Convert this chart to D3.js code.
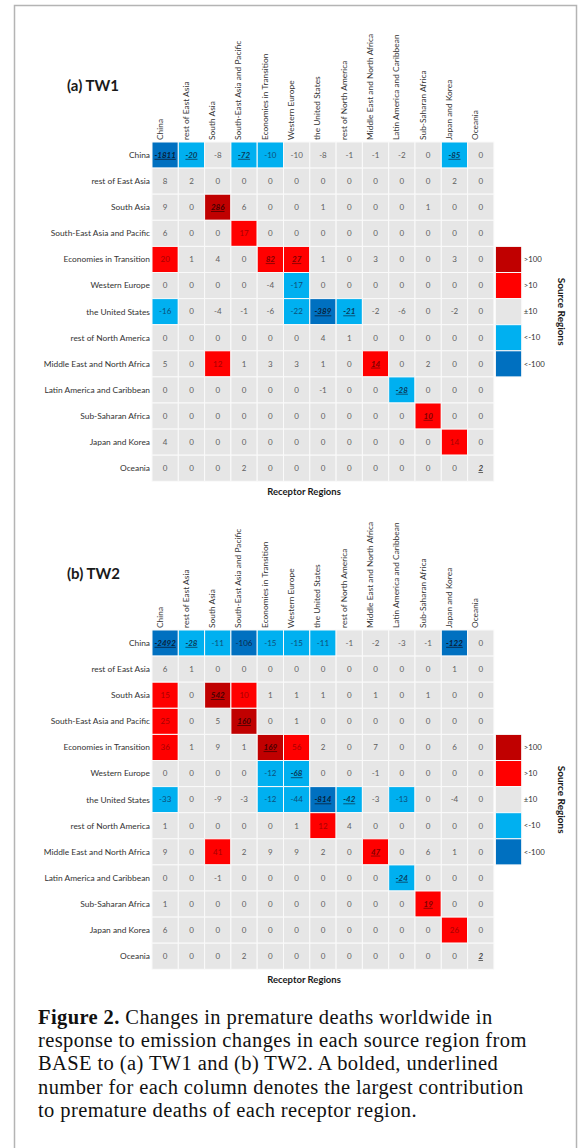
<!DOCTYPE html>
<html>
<head>
<meta charset="utf-8">
<script src="https://cdn.jsdelivr.net/npm/d3@7"></script>
<style>
  body { margin: 0; background: #fff; }
  svg { display: block; }
</style>
</head>
<body>
<svg id="chart" width="584" height="1148"></svg>
<script>
// regions (rows = source, columns = receptor)
var regions = ["China", "rest of East Asia", "South Asia", "South-East Asia and Pacific",
  "Economies in Transition", "Western Europe", "the United States", "rest of North America",
  "Middle East and North Africa", "Latin America and Caribbean", "Sub-Saharan Africa",
  "Japan and Korea", "Oceania"];

// TW1 (values with decimals are estimates where the colour shows the rounding side)
var tw1 = [
  [-1811, -20, -8, -72, -10.2, -9.8, -8, -1, -1, -2, 0, -85, 0],
  [8, 2, 0, 0, 0, 0, 0, 0, 0, 0, 0, 2, 0],
  [9, 0, 286, 6, 0, 0, 1, 0, 0, 0, 1, 0, 0],
  [6, 0, 0, 17, 0, 0, 0, 0, 0, 0, 0, 0, 0],
  [20, 1, 4, 0, 82, 27, 1, 0, 3, 0, 0, 3, 0],
  [0, 0, 0, 0, -4, -17, 0, 0, 0, 0, 0, 0, 0],
  [-16, 0, -4, -1, -6, -22, -389, -21, -2, -6, 0, -2, 0],
  [0, 0, 0, 0, 0, 0, 4, 1, 0, 0, 0, 0, 0],
  [5, 0, 12, 1, 3, 3, 1, 0, 14, 0, 2, 0, 0],
  [0, 0, 0, 0, 0, 0, -1, 0, 0, -28, 0, 0, 0],
  [0, 0, 0, 0, 0, 0, 0, 0, 0, 0, 10.3, 0, 0],
  [4, 0, 0, 0, 0, 0, 0, 0, 0, 0, 0, 14, 0],
  [0, 0, 0, 2, 0, 0, 0, 0, 0, 0, 0, 0, 2]
];

// TW2
var tw2 = [
  [-2492, -28, -11, -106, -15, -15, -11, -1, -2, -3, -1, -122, 0],
  [6, 1, 0, 0, 0, 0, 0, 0, 0, 0, 0, 1, 0],
  [15, 0, 542, 10.4, 1, 1, 1, 0, 1, 0, 1, 0, 0],
  [25, 0, 5, 160, 0, 1, 0, 0, 0, 0, 0, 0, 0],
  [36, 1, 9, 1, 169, 56, 2, 0, 7, 0, 0, 6, 0],
  [0, 0, 0, 0, -12, -68, 0, 0, -1, 0, 0, 0, 0],
  [-33, 0, -9, -3, -12, -44, -814, -42, -3, -13, 0, -4, 0],
  [1, 0, 0, 0, 0, 1, 12, 4, 0, 0, 0, 0, 0],
  [9, 0, 41, 2, 9, 9, 2, 0, 47, 0, 6, 1, 0],
  [0, 0, -1, 0, 0, 0, 0, 0, 0, -24, 0, 0, 0],
  [1, 0, 0, 0, 0, 0, 0, 0, 0, 0, 19, 0, 0],
  [6, 0, 0, 0, 0, 0, 0, 0, 0, 0, 0, 26, 0],
  [0, 0, 0, 2, 0, 0, 0, 0, 0, 0, 0, 0, 2]
];

var legendLabels = [">100", ">10", "\u00b110", "<-10", "<-100"];
var legendValues = [200, 50, 0, -50, -200];

var captionLines = [
  ["Figure 2.", " Changes in premature deaths worldwide in"],
  ["", "response to emission changes in each source region from"],
  ["", "BASE to (a) TW1 and (b) TW2. A bolded, underlined"],
  ["", "number for each column denotes the largest contribution"],
  ["", "to premature deaths of each receptor region."]
];

var svg = d3.select("#chart");
var font = "Lato, 'Open Sans', sans-serif";

// outer frame
svg.append("rect")
  .attr("x", 14.5).attr("y", 5.5)
  .attr("width", 562).attr("height", 1150)
  .attr("fill", "none")
  .attr("stroke", "#b4b4b4")
  .attr("stroke-width", 1.5);

var color = d3.scaleThreshold()
  .domain([-100, -10, 10, 100])
  .range(["#0070c0", "#00b0f0", "#e6e6e6", "#ff0000", "#c00000"]);

var textColor = d3.scaleThreshold()
  .domain([-100, -10, 10, 100])
  .range(["#0b2a4d", "#0d4f78", "#5f5f5f", "#a80000", "#5c0000"]);

var x = d3.scaleBand().domain(regions).range([152, 152 + 13 * 26.3]);

function drawPanel(title, values, top) {
  var g = svg.append("g");
  var y = d3.scaleBand().domain(regions).range([top, top + 13 * 26.1]);

  // largest absolute contribution in each column
  var best = regions.map(function(c, j) {
    return d3.maxIndex(values, function(row) { return Math.abs(row[j]); });
  });

  g.append("text")
    .attr("x", 67).attr("y", top - 51)
    .attr("font-family", font)
    .attr("font-weight", "bold")
    .attr("font-size", 15)
    .attr("fill", "#1a1a1a")
    .text(title);

  var cells = [];
  values.forEach(function(row, i) {
    row.forEach(function(v, j) {
      cells.push({ src: regions[i], rec: regions[j], v: v, bold: best[j] === i });
    });
  });

  g.selectAll("rect.cell")
    .data(cells)
    .enter().append("rect")
    .attr("class", "cell")
    .attr("x", function(d) { return x(d.rec); })
    .attr("y", function(d) { return y(d.src); })
    .attr("width", x.bandwidth())
    .attr("height", y.bandwidth())
    .attr("fill", function(d) { return color(d.v); })
    .attr("stroke", "#fafafa")
    .attr("stroke-width", 1);

  g.selectAll("text.val")
    .data(cells)
    .enter().append("text")
    .attr("class", "val")
    .attr("x", function(d) { return x(d.rec) + x.bandwidth() / 2; })
    .attr("y", function(d) { return y(d.src) + y.bandwidth() / 2; })
    .attr("dy", "0.35em")
    .attr("text-anchor", "middle")
    .attr("font-family", font)
    .attr("font-size", 8)
    .attr("font-weight", function(d) { return d.bold ? "bold" : "normal"; })
    .attr("font-style", function(d) { return d.bold ? "italic" : "normal"; })
    .style("text-decoration", function(d) { return d.bold ? "underline" : "none"; })
    .attr("fill", function(d) { return d.bold ? d3.color(textColor(d.v)).darker(0.8) : textColor(d.v); })
    .text(function(d) { return Math.round(d.v); });

  // row labels (source regions)
  g.selectAll("text.row")
    .data(regions)
    .enter().append("text")
    .attr("class", "row")
    .attr("x", 150)
    .attr("y", function(d) { return y(d) + y.bandwidth() / 2; })
    .attr("dy", "0.35em")
    .attr("text-anchor", "end")
    .attr("font-family", font)
    .attr("font-size", 8.4)
    .attr("fill", "#333")
    .text(function(d) { return d; });

  // column labels (receptor regions)
  g.selectAll("text.col")
    .data(regions)
    .enter().append("text")
    .attr("class", "col")
    .attr("transform", function(d) {
      return "translate(" + (x(d) + 10.5) + "," + (top - 2) + ") rotate(-90)";
    })
    .attr("font-family", font)
    .attr("font-size", 8.4)
    .attr("fill", "#333")
    .text(function(d) { return d; });

  // legend
  var lx = x.range()[1] + 1.5;
  g.selectAll("rect.leg")
    .data(legendValues)
    .enter().append("rect")
    .attr("class", "leg")
    .attr("x", lx)
    .attr("y", function(d, i) { return y(regions[4 + i]); })
    .attr("width", x.bandwidth())
    .attr("height", y.bandwidth())
    .attr("fill", function(d) { return color(d); })
    .attr("stroke", "#fafafa");

  g.selectAll("text.leg")
    .data(legendLabels)
    .enter().append("text")
    .attr("class", "leg")
    .attr("x", lx + x.bandwidth() + 2)
    .attr("y", function(d, i) { return y(regions[4 + i]) + y.bandwidth() / 2; })
    .attr("dy", "0.35em")
    .attr("font-family", font)
    .attr("font-size", 7.8)
    .attr("fill", "#333")
    .text(function(d) { return d; });

  g.append("text")
    .attr("transform", "translate(558," + (y(regions[6]) + y.bandwidth() / 2) + ") rotate(90)")
    .attr("text-anchor", "middle")
    .attr("font-family", font)
    .attr("font-weight", "bold")
    .attr("font-size", 10)
    .attr("fill", "#1a1a1a")
    .text("Source Regions");

  g.append("text")
    .attr("x", 304)
    .attr("y", y.range()[1] + 14)
    .attr("text-anchor", "middle")
    .attr("font-family", font)
    .attr("font-weight", "bold")
    .attr("font-size", 9.5)
    .attr("fill", "#1a1a1a")
    .text("Receptor Regions");
}

drawPanel("(a) TW1", tw1, 142);
drawPanel("(b) TW2", tw2, 630);

// caption
var cap = svg.append("g");
captionLines.forEach(function(line, i) {
  var t = cap.append("text")
    .attr("x", 38)
    .attr("y", 1024 + i * 23.2)
    .attr("font-family", "'Liberation Serif', 'Times New Roman', serif")
    .attr("font-size", 20.5)
    .attr("letter-spacing", 0.4)
    .attr("fill", "#111");
  if (line[0]) t.append("tspan").attr("font-weight", "bold").text(line[0]);
  t.append("tspan").text(line[1]);
});
</script>
</body>
</html>
